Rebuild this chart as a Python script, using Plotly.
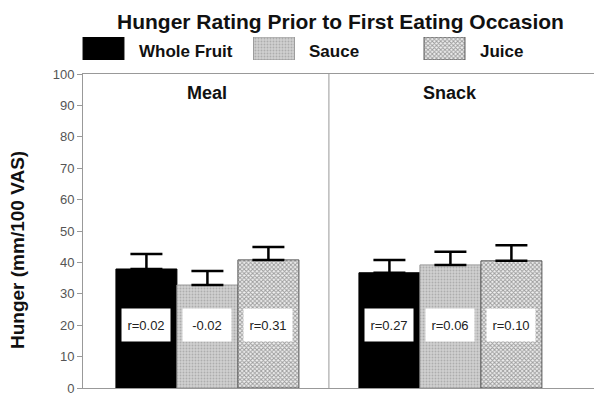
import plotly.graph_objects as go

# ---- data ----
occasions = ["Meal", "Snack"]
foods = ["Whole Fruit", "Sauce", "Juice"]
hunger_mean = {
    "Whole Fruit": [37.9, 36.7],
    "Sauce": [32.8, 39.2],
    "Juice": [40.8, 40.5],
}
hunger_err = {
    "Whole Fruit": [4.8, 4.1],
    "Sauce": [4.5, 4.2],
    "Juice": [4.1, 5.0],
}
r_labels = {
    "Whole Fruit": ["r=0.02", "r=0.27"],
    "Sauce": ["-0.02", "r=0.06"],
    "Juice": ["r=0.31", "r=0.10"],
}
y_ticks = [0, 10, 20, 30, 40, 50, 60, 70, 80, 90, 100]

# ---- layout geometry (page pixels; page body has an 8px margin) ----
OFF = 8
W, H = 594, 392
L, R, T, B = 83, 595, 74, 388  # plot area in page px

def px_x(p):
    return (p - OFF) / W

def px_y(p):
    return (H - (p - OFF)) / H

styles = {
    "Whole Fruit": dict(color="#000000", line=dict(color="#000000", width=1)),
    "Sauce": dict(color="#cccccc",
                  pattern=dict(shape=".", fgcolor="#8a8a8a", bgcolor="#d0d0d0", size=3, solidity=0.3),
                  line=dict(color="#9a9a9a", width=1)),
    "Juice": dict(color="#aaaaaa",
                  pattern=dict(shape="x", fgcolor="#4a4a4a", bgcolor="#f0f0f0", size=3, solidity=0.55),
                  line=dict(color="#555555", width=1)),
}

fig = go.Figure()

for f in foods:
    fig.add_trace(go.Bar(
        x=occasions, y=hunger_mean[f], name=f, marker=styles[f],
        error_y=dict(type="data", symmetric=False, array=hunger_err[f],
                     arrayminus=[0] * len(occasions), color="#000000",
                     thickness=2.5, width=16),
        showlegend=False, xaxis="x", yaxis="y",
    ))

# legend swatches on a helper axis
for i, f in enumerate(foods):
    fig.add_trace(go.Bar(
        x=[i], y=[1], width=[0.24], marker=styles[f], showlegend=False,
        hoverinfo="skip", xaxis="x2", yaxis="y2",
    ))

bar_w = 0.251
annotations = []
for j, f in enumerate(foods):
    for i, occ in enumerate(occasions):
        annotations.append(dict(
            x=i + (j - 1) * bar_w, y=20, xref="x", yref="y",
            text=r_labels[f][i], showarrow=False,
            font=dict(family="Liberation Sans, Arial", size=13, color="#222"),
            bgcolor="#ffffff", width=46, height=30,
        ))

for i, occ in enumerate(occasions):
    annotations.append(dict(
        x=i, y=94, xref="x", yref="y", text="<b>%s</b>" % occ, showarrow=False,
        font=dict(family="Liberation Sans, Arial", size=18, color="#111"),
    ))

for i, f in enumerate(foods):
    annotations.append(dict(
        x=i + 0.196, y=px_y(51), xref="x2", yref="paper", xanchor="left", yanchor="middle",
        text="<b>%s</b>" % f, showarrow=False,
        font=dict(family="Liberation Sans, Arial", size=17, color="#111"),
    ))

annotations.append(dict(
    x=px_x(340), y=px_y(21), xref="paper", yref="paper", xanchor="center", yanchor="middle",
    text="<b>Hunger Rating Prior to First Eating Occasion</b>", showarrow=False,
    font=dict(family="Liberation Sans, Arial", size=21, color="#111"),
))
annotations.append(dict(
    x=px_x(17), y=px_y(250), xref="paper", yref="paper", textangle=-90,
    xanchor="center", yanchor="middle",
    text="<b>Hunger (mm/100 VAS)</b>", showarrow=False,
    font=dict(family="Liberation Sans, Arial", size=19, color="#111"),
))

c0 = 103.5 - OFF
step = 170.5

fig.update_layout(
    width=W, height=H, autosize=False,
    margin=dict(l=0, r=0, t=0, b=0, pad=0, autoexpand=False),
    paper_bgcolor="white", plot_bgcolor="white",
    barmode="group", bargap=0.247, bargroupgap=0,
    xaxis=dict(domain=[px_x(L), min(1, px_x(R))], range=[-0.512, 1.595], type="category",
               showticklabels=False, ticks="", showline=True, linecolor="#999",
               linewidth=1, mirror=True, showgrid=False, zeroline=False,
               automargin=False, fixedrange=True),
    yaxis=dict(domain=[px_y(B), px_y(T)], range=[0, 100], tickvals=y_ticks,
               ticks="outside", ticklen=5, tickcolor="#999", showline=True,
               linecolor="#999", linewidth=1, mirror=True, showgrid=False,
               zeroline=False, automargin=False,
               tickfont=dict(family="Liberation Sans, Arial", size=13, color="#555")),
    xaxis2=dict(domain=[0, 1], range=[-c0 / step, (W - c0) / step], visible=False,
                anchor="y2", automargin=False),
    yaxis2=dict(domain=[px_y(60), px_y(37)], range=[0, 1], visible=False, anchor="x2",
                automargin=False),
    annotations=annotations,
    shapes=[dict(type="line", xref="x", yref="y domain", x0=0.5, x1=0.5, y0=0, y1=1,
                 line=dict(color="#999", width=1))],
    showlegend=False,
)

fig.write_html("out.html")
